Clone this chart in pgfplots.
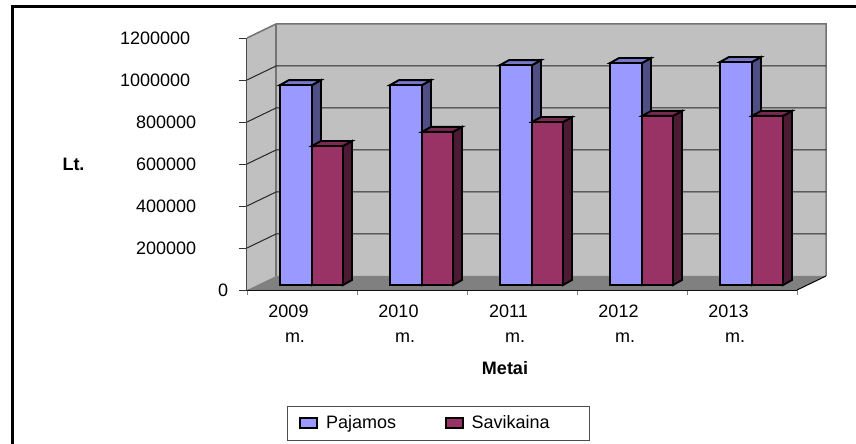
\documentclass[border=0pt]{standalone}
\usepackage{fontspec}
\setmainfont{Liberation Sans}
\usepackage{pgfplots}
\pgfplotsset{compat=1.18}
\definecolor{pajF}{HTML}{9999FF}
\definecolor{pajT}{HTML}{7777CC}
\definecolor{pajS}{HTML}{4F4F85}
\definecolor{savF}{HTML}{993366}
\definecolor{savT}{HTML}{7A2952}
\definecolor{savS}{HTML}{4D1A33}
\definecolor{wall}{HTML}{C0C0C0}
\definecolor{floorc}{HTML}{808080}
% y value #1 lifted by #2 pixels of depth
\def\yu#1#2{\the\numexpr #1+(#2)*100000/21\relax}
% #1 left edge (px), #2 width (px), #3 value, #4 front, #5 top, #6 side
\newcommand\threedbar[6]{%
  \edef\xa{\the\numexpr #1\relax}\edef\xb{\the\numexpr #1+#2\relax}%
  \edef\xc{\the\numexpr #1+#2+9\relax}\edef\xd{\the\numexpr #1+9\relax}%
  \edef\yb{\yu{0}{5}}\edef\ybb{\yu{0}{10}}%
  \edef\yt{\yu{#3}{5}}\edef\ytt{\yu{#3}{10}}%
  \addplot[forget plot,draw=black,line width=1.9pt,fill=#6,line join=miter] coordinates {(\xb,\yb)(\xb,\yt)(\xc,\ytt)(\xc,\ybb)} --cycle;
  \addplot[forget plot,draw=black,line width=1.9pt,fill=#5,line join=miter] coordinates {(\xa,\yt)(\xb,\yt)(\xc,\ytt)(\xd,\ytt)} --cycle;
  \addplot[forget plot,draw=black,line width=1.9pt,fill=#4,line join=miter] coordinates {(\xa,\yb)(\xb,\yb)(\xb,\yt)(\xa,\yt)} --cycle;
}
\begin{document}
\begin{tikzpicture}[x=1pt,y=1pt]
\useasboundingbox (0,0) rectangle (856,444);
\fill[white] (0,0) rectangle (856,444);
\draw[black,line width=2.8pt,line join=miter] (12.5,0) -- (12.5,437.5) -- (856,437.5);
\begin{axis}[
  at={(247pt,154pt)}, anchor=origin,
  scale only axis, width=550pt, height=252pt,
  xmin=0, xmax=550, ymin=0, ymax=1200000,
  clip=false,
  scaled y ticks=false,
  axis lines=left, axis line style={-},
  x axis line style={black,line width=1.3pt},
  y axis line style={gray!60!black,line width=1.6pt},
  tick align=outside,
  xtick={0,110,220,330,440,550},
  xticklabels={{2009\\\hspace*{13pt}m.},{2010\\\hspace*{13pt}m.},{2011\\\hspace*{13pt}m.},{2012\\\hspace*{13pt}m.},{2013\\\hspace*{13pt}m.},{}},
  xticklabel style={align=center,anchor=north,xshift=41.5pt,yshift=-7pt,font=\fontsize{18}{25}\selectfont},
  xtick style={draw=gray,line width=1pt,/pgfplots/major tick length=4.5pt},
  ytick={0,200000,400000,600000,800000,1000000,1200000},
  yticklabels={{0},{200000\hspace*{32pt}},{400000\hspace*{32pt}},{600000\hspace*{32pt}},{800000\hspace*{32pt}},{1000000\hspace*{38pt}},{1200000\hspace*{38pt}}},
  yticklabel style={anchor=east,font=\fontsize{18}{20}\selectfont,xshift=-11pt},
  ytick style={draw=black!80,line width=0.9pt,/pgfplots/major tick length=8pt},
  xlabel={\textbf{Metai}}, ylabel={\textbf{Lt.}},
  every axis x label/.style={at={(axis cs:258,-371429)},anchor=center,font=\fontsize{18}{20}\selectfont},
  every axis y label/.style={at={(axis cs:-173.5,600000)},anchor=center,font=\fontsize{18}{20}\selectfont},
  legend columns=2,
  legend style={at={(axis cs:40,-552381)},anchor=north west,draw=black!70,line width=0.9pt,
    font=\fontsize{18}{20}\selectfont,inner xsep=12pt,inner ysep=7.5pt,
    /tikz/every odd column/.append style={column sep=6pt},
    /tikz/every even column/.append style={column sep=47pt}},
]
% walls and floor
\draw[draw=none,fill=wall] (axis cs:0,0) -- (axis cs:0,1200000) -- (axis cs:29,\yu{1200000}{14}) -- (axis cs:29,\yu{0}{14}) -- cycle;
\draw[draw=none,fill=wall] (axis cs:29,\yu{0}{14}) rectangle (axis cs:579,\yu{1200000}{14});
\draw[draw=none,fill=floorc] (axis cs:0,0) -- (axis cs:550,0) -- (axis cs:579,\yu{0}{14}) -- (axis cs:29,\yu{0}{14}) -- cycle;
\draw[gray!90!black,line width=1.5pt] (axis cs:0,1200000) -- (axis cs:29,\yu{1200000}{14}) -- (axis cs:579,\yu{1200000}{14}) -- (axis cs:579,\yu{0}{14});
\draw[gray!90!black,line width=2pt] (axis cs:29,\yu{0}{14}) -- (axis cs:29,\yu{1200000}{14});
\draw[black,line width=1pt] (axis cs:550,0) -- (axis cs:579,\yu{0}{14});
\foreach \v in {200000,400000,600000,800000,1000000}{
  \edef\temp{\noexpand\draw[black!85,line width=1pt] (axis cs:0,\v) -- (axis cs:29,\yu{\v}{14}) -- (axis cs:579,\yu{\v}{14});}
  \temp
}
\threedbar{33}{32}{952000}{pajF}{pajT}{pajS}
\threedbar{65}{31}{662000}{savF}{savT}{savS}
\threedbar{143}{32}{952000}{pajF}{pajT}{pajS}
\threedbar{175}{31}{729000}{savF}{savT}{savS}
\threedbar{253}{32}{1047000}{pajF}{pajT}{pajS}
\threedbar{285}{31}{776000}{savF}{savT}{savS}
\threedbar{363}{32}{1057000}{pajF}{pajT}{pajS}
\threedbar{395}{31}{805000}{savF}{savT}{savS}
\threedbar{473}{32}{1062000}{pajF}{pajT}{pajS}
\threedbar{505}{31}{805000}{savF}{savT}{savS}
\addlegendimage{legend image code/.code={\draw[draw=black,line width=1.6pt,fill=pajF] (0pt,-5pt) rectangle (17pt,5pt);}}
\addlegendentry{Pajamos}
\addlegendimage{legend image code/.code={\draw[draw=black,line width=1.6pt,fill=savF] (0pt,-5pt) rectangle (17pt,5pt);}}
\addlegendentry{Savikaina\hspace*{26pt}}
\end{axis}
\end{tikzpicture}
\end{document}
